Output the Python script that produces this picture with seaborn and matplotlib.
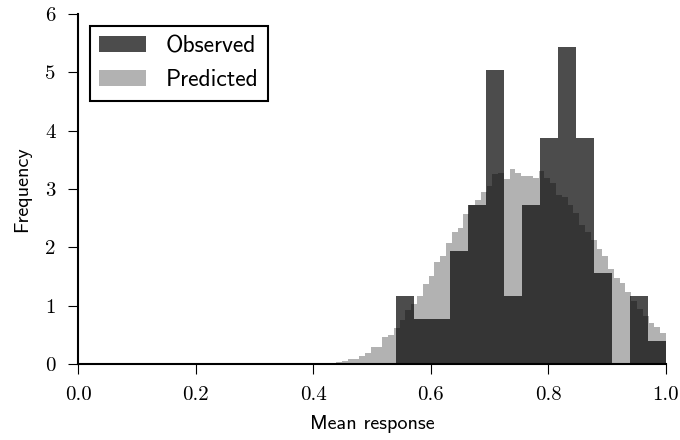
import numpy as np
import matplotlib
matplotlib.use("Agg")
import matplotlib.pyplot as plt
import seaborn as sns

# observed: 15 equal bins between 0.54 and 1.0, counts per bin
obs_range = (0.54, 1.0)
obs_counts = [3, 2, 2, 5, 7, 13, 3, 7, 10, 14, 10, 4, 0, 3, 1]

# predicted: 59 equal bins between 0.419 and 1.0, density per bin
pred_range = (0.419, 1.0)
pred_density = [0.01, 0.02, 0.03, 0.05, 0.08, 0.09, 0.13, 0.19, 0.29, 0.29,
                0.46, 0.50, 0.61, 0.75, 0.93, 1.03, 1.17, 1.36, 1.50, 1.75,
                1.85, 2.07, 2.26, 2.33, 2.57, 2.71, 2.80, 2.93, 3.04, 3.24,
                3.26, 3.16, 3.33, 3.26, 3.21, 3.22, 3.17, 3.29, 3.17, 3.09,
                2.88, 2.86, 2.71, 2.58, 2.38, 2.26, 2.11, 1.97, 1.84, 1.63,
                1.47, 1.38, 1.23, 1.08, 0.94, 0.82, 0.70, 0.63, 0.53]

xticks = [0.0, 0.2, 0.4, 0.6, 0.8, 1.0]
yticks = [0, 1, 2, 3, 4, 5, 6]


def centers(rng, n):
    edges = np.linspace(rng[0], rng[1], n + 1)
    return (edges[:-1] + edges[1:]) / 2


fig = plt.figure(figsize=(6.8, 4.4), dpi=100)
ax = fig.add_axes([78 / 680, 1 - 364 / 440, 588 / 680, 350 / 440])

sns.histplot(x=centers(obs_range, len(obs_counts)), weights=obs_counts,
             bins=len(obs_counts), binrange=obs_range, stat="density",
             color="black", alpha=0.7, linewidth=0, label="Observed", ax=ax)
sns.histplot(x=centers(pred_range, len(pred_density)), weights=pred_density,
             bins=len(pred_density), binrange=pred_range, stat="density",
             color="black", alpha=0.3, linewidth=0, label="Predicted", ax=ax)

ax.set_xlim(0, 1)
ax.set_ylim(0, 6)
ax.set_xticks(xticks, labels=[f"{t:.1f}" for t in xticks])
ax.set_yticks(yticks, labels=[str(t) for t in yticks])
for lab in ax.get_xticklabels() + ax.get_yticklabels():
    lab.set_fontfamily("cmr10")
    lab.set_fontsize(15)
ax.tick_params(direction="out", length=7, width=0.8, pad=9, color="black")

ax.spines[["top", "right"]].set_visible(False)
for s in ["left", "bottom"]:
    ax.spines[s].set_linewidth(1.5)

ax.set_xlabel("Mean response", fontfamily="cmss10", fontsize=14.5, labelpad=8)
ax.set_ylabel("Frequency", fontfamily="cmss10", fontsize=14.5, labelpad=10)

leg = ax.legend(loc="upper left", prop={"family": "cmss10", "size": 17},
                fancybox=False, edgecolor="black", framealpha=1)
leg.get_frame().set_linewidth(1.5)

fig.savefig("out.png", dpi=100)
